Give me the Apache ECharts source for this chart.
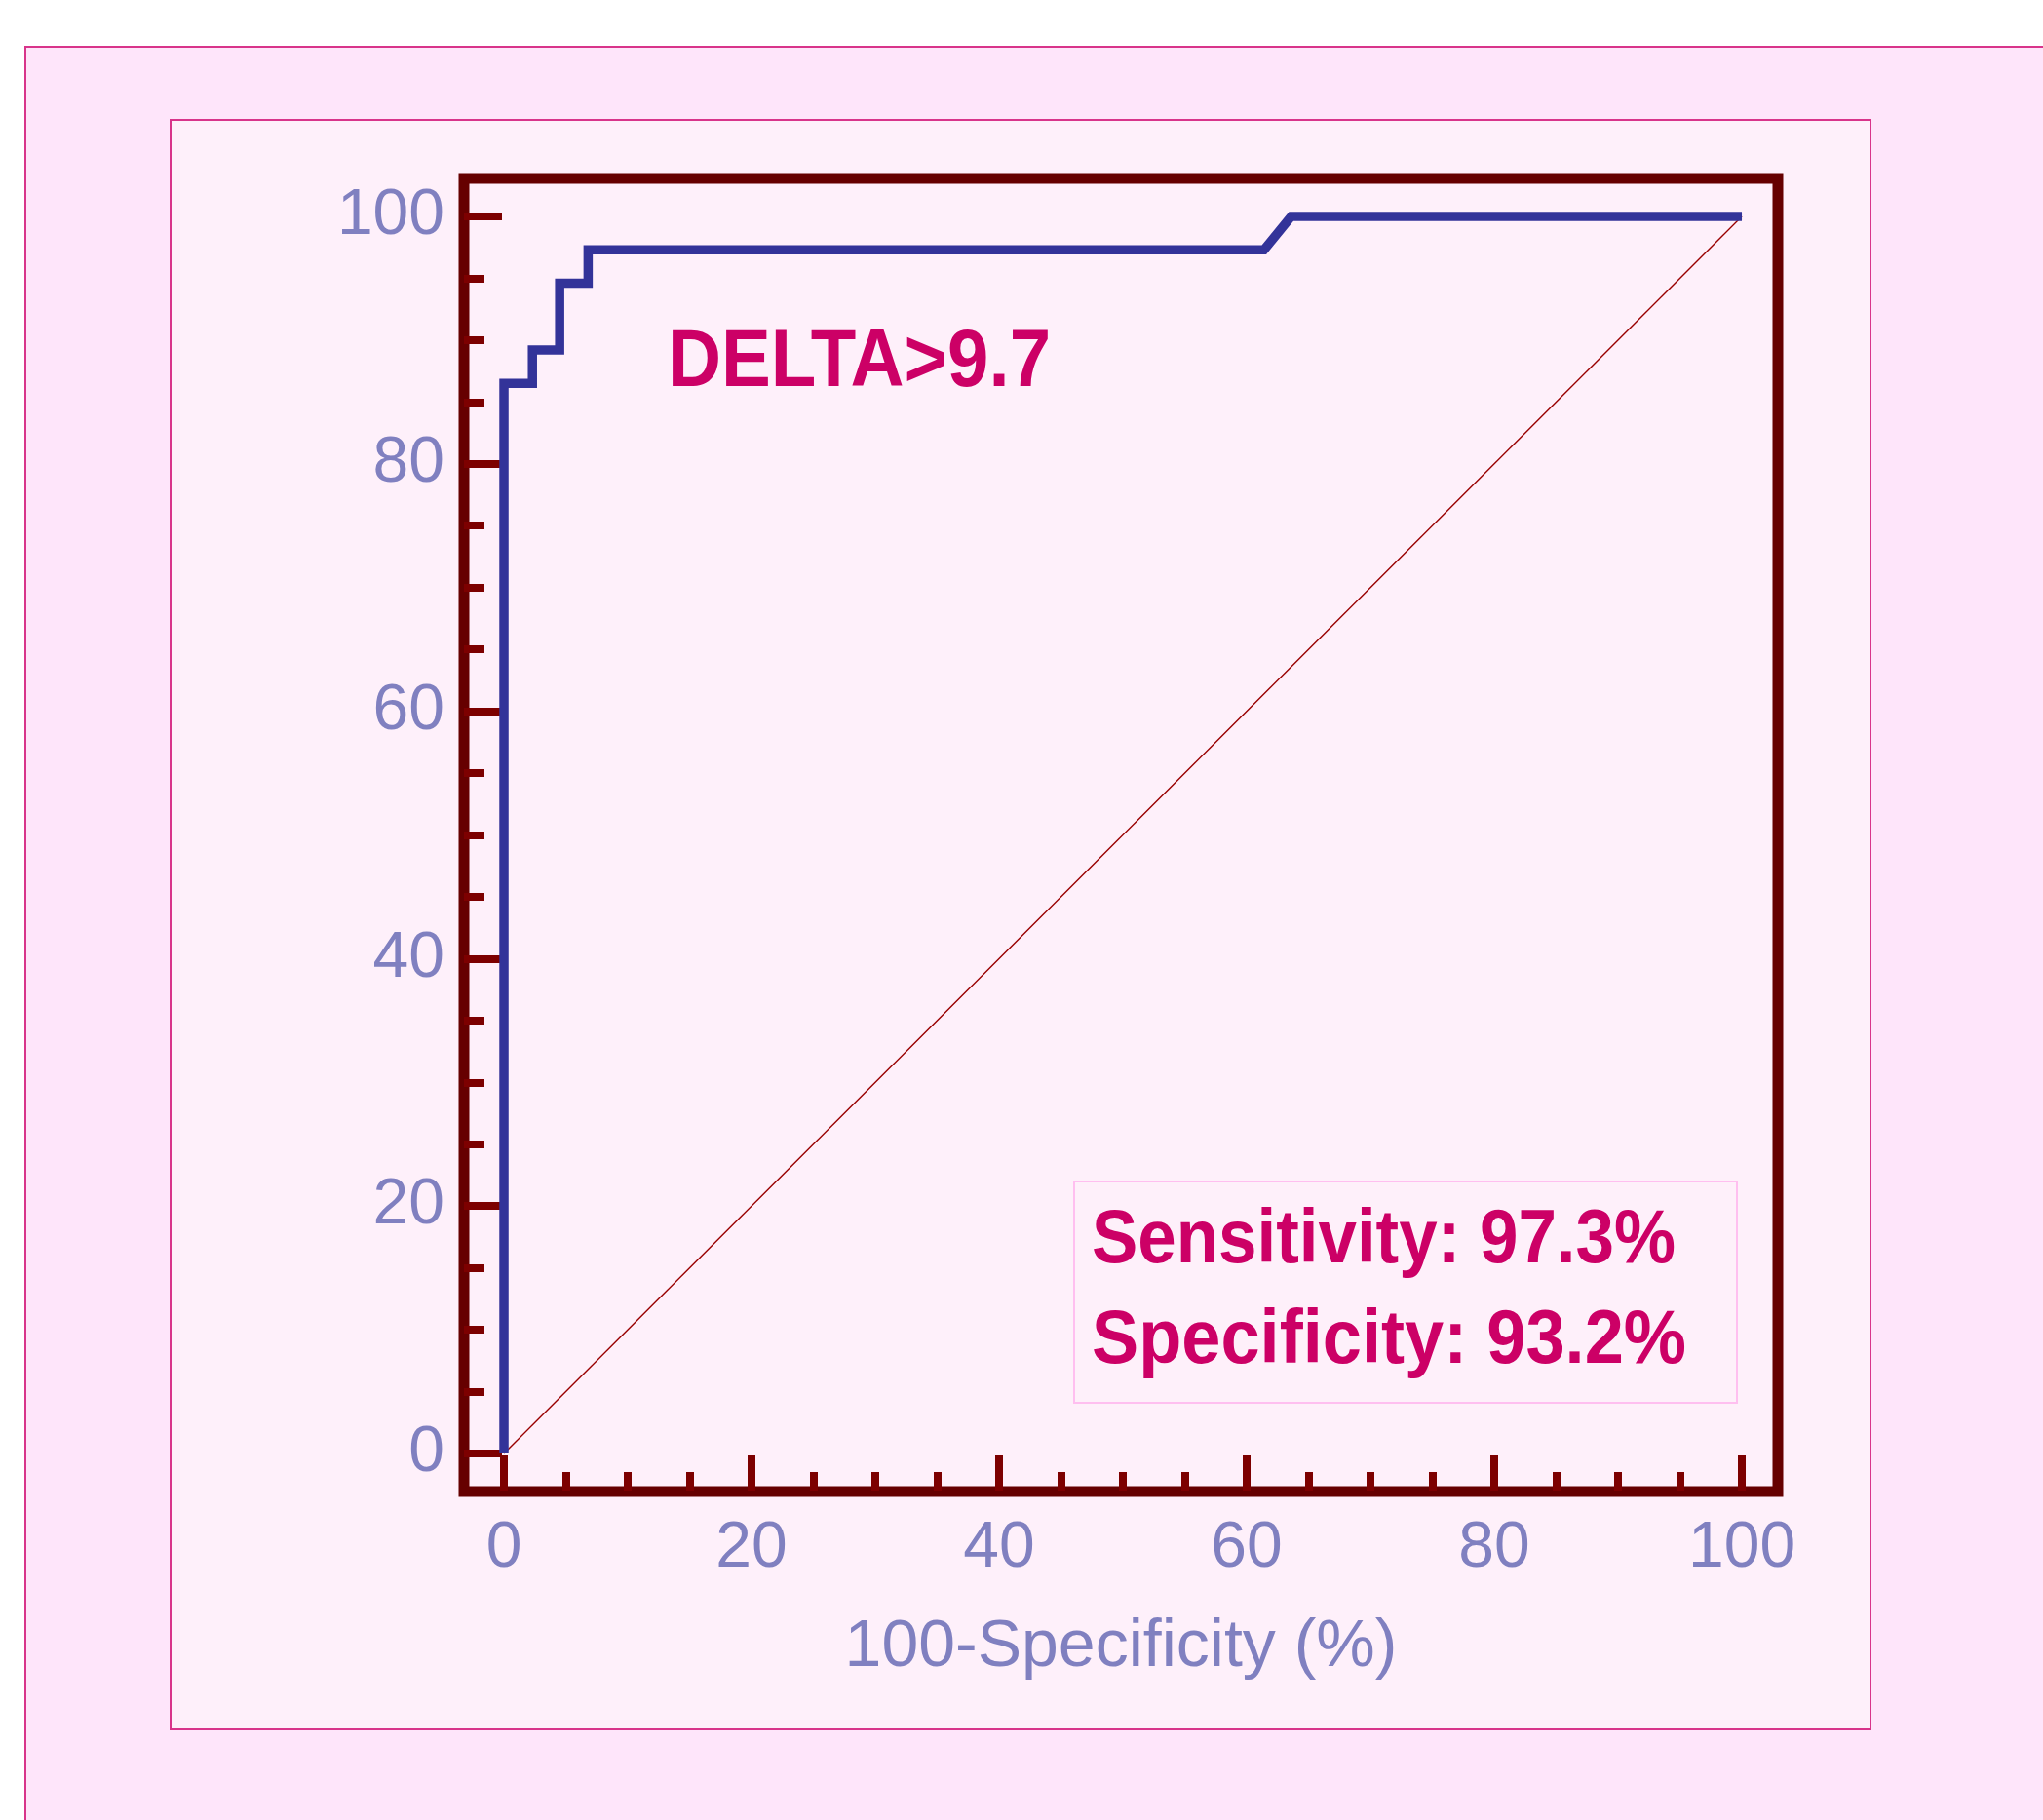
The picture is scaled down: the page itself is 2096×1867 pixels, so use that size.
<!DOCTYPE html>
<html>
<head>
<meta charset="utf-8">
<style>
  html, body { margin: 0; padding: 0; background: #ffffff; }
  #chart { width: 2096px; height: 1867px; }
</style>
<script src="https://cdn.jsdelivr.net/npm/echarts@6/dist/echarts.min.js"></script>
</head>
<body>
<div id="chart"></div>
<script>
// ---- data ----
const rocX = [0, 0, 2.3, 2.3, 4.5, 4.5, 6.8, 6.8, 61.4, 63.6, 100];
const rocY = [0, 86.5, 86.5, 89.2, 89.2, 94.6, 94.6, 97.3, 97.3, 100, 100];
const refX = [0, 100];
const refY = [0, 100];
const majorTicks = [0, 20, 40, 60, 80, 100];
const minorTicks = [0, 5, 10, 15, 20, 25, 30, 35, 40, 45, 50, 55, 60, 65, 70, 75, 80, 85, 90, 95, 100];
const xName = '100-Specificity (%)';
const criterionText = 'DELTA>9.7';
const sensText = 'Sensitivity: 97.3%';
const specText = 'Specificity: 93.2%';

// ---- styling ----
const frameColor = '#660000';
const tickColor = '#7d0000';
const labelColor = '#8080c0';
const accent = '#cc0066';
const labelFont = "'Liberation Sans', Arial, sans-serif";

function fitScale(text, fontSize, target) {
  const c = document.createElement('canvas').getContext('2d');
  c.font = 'bold ' + fontSize + 'px ' + labelFont;
  return target / c.measureText(text).width;
}

const chart = echarts.init(document.getElementById('chart'), null, { renderer: 'canvas' });

const gridLeft = 476, gridTop = 183, gridRight = 272, gridBottom = 337;

function xAxisDef(values, len, showLabel) {
  return {
    type: 'value', position: 'bottom', min: -3.23, max: 102.91,
    axisLine: { show: false, onZero: false },
    splitLine: { show: false },
    axisTick: { show: true, inside: true, length: len, customValues: values,
      lineStyle: { color: tickColor, width: 8 } },
    axisLabel: { show: showLabel, customValues: values, margin: 26,
      color: labelColor, fontFamily: labelFont, fontSize: 66 },
    name: showLabel ? xName : '', nameLocation: 'middle', nameGap: 126,
    nameTextStyle: { color: labelColor, fontFamily: labelFont, fontSize: 68 }
  };
}
function yAxisDef(values, len, showLabel) {
  return {
    type: 'value', position: 'left', min: -3.07, max: 103.07,
    axisLine: { show: false, onZero: false },
    splitLine: { show: false },
    axisTick: { show: true, inside: true, length: len, customValues: values,
      lineStyle: { color: tickColor, width: 8 } },
    axisLabel: { show: showLabel, customValues: values, margin: 20,
      color: labelColor, fontFamily: labelFont, fontSize: 66,
      padding: [0, 0, 8, 0] }
  };
}

const option = {
  animation: false,
  backgroundColor: '#ffffff',
  graphic: [
    { type: 'rect', z: -10, shape: { x: 26, y: 48, width: 2200, height: 2000 },
      style: { fill: '#fee5fa', stroke: '#d8348a', lineWidth: 2 } },
    { type: 'rect', z: -9, shape: { x: 175, y: 123, width: 1744, height: 1651 },
      style: { fill: '#fef0fa', stroke: '#d8348a', lineWidth: 2 } },
    { type: 'rect', z: 5, shape: { x: 1102, y: 1212, width: 680, height: 227 },
      style: { fill: 'none', stroke: '#ffbff0', lineWidth: 2 } },
    { type: 'text', z: 10, x: 685, y: 373, scaleX: fitScale(criterionText, 84, 393), scaleY: 1,
      style: { text: criterionText, fill: accent, font: 'bold 84px ' + labelFont,
        textAlign: 'left', textVerticalAlign: 'middle', align: 'left', verticalAlign: 'middle' } },
    { type: 'text', z: 10, x: 1120, y: 1273, scaleX: fitScale(sensText, 78, 599), scaleY: 1,
      style: { text: sensText, fill: accent, font: 'bold 78px ' + labelFont,
        textAlign: 'left', textVerticalAlign: 'middle', align: 'left', verticalAlign: 'middle' } },
    { type: 'text', z: 10, x: 1120, y: 1376, scaleX: fitScale(specText, 78, 610), scaleY: 1,
      style: { text: specText, fill: accent, font: 'bold 78px ' + labelFont,
        textAlign: 'left', textVerticalAlign: 'middle', align: 'left', verticalAlign: 'middle' } }
  ],
  grid: {
    left: gridLeft, top: gridTop, right: gridRight, bottom: gridBottom,
    show: true, backgroundColor: 'transparent',
    borderColor: frameColor, borderWidth: 11
  },
  xAxis: [ xAxisDef(majorTicks, 37, true), xAxisDef(minorTicks, 20, false) ],
  yAxis: [ yAxisDef(majorTicks, 39, true), yAxisDef(minorTicks, 21, false) ],
  series: [
    {
      type: 'line', xAxisIndex: 0, yAxisIndex: 0,
      data: refX.map((x, i) => [x, refY[i]]),
      symbol: 'none', silent: true, z: 2,
      lineStyle: { color: '#990000', width: 1.4 }
    },
    {
      type: 'line', xAxisIndex: 0, yAxisIndex: 0,
      data: rocX.map((x, i) => [x, rocY[i]]),
      symbol: 'none', silent: true, z: 3, clip: false,
      lineStyle: { color: '#333399', width: 9.5, join: 'miter', cap: 'butt' }
    }
  ]
};
chart.setOption(option);
</script>
</body>
</html>
